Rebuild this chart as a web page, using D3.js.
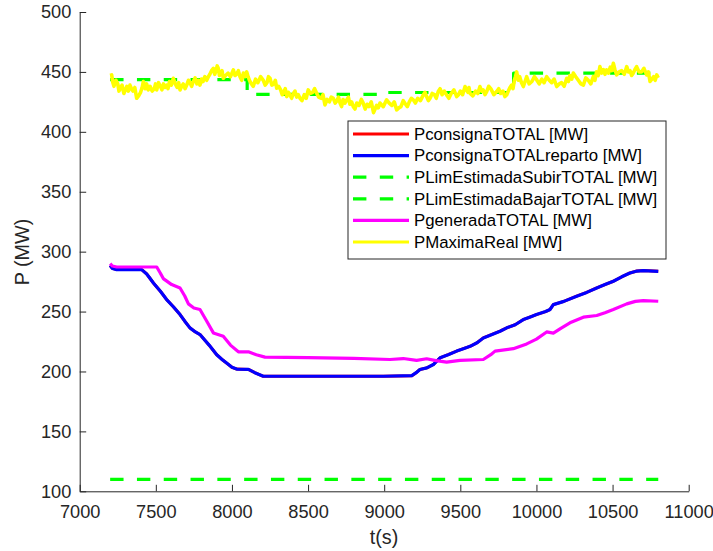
<!DOCTYPE html>
<meta charset="utf-8">
<style>
body { margin: 0; background: #fff; }
svg { display: block; }
text { font-family: "Liberation Sans", Arial, Helvetica, sans-serif; fill: #262626; }
.axis path, .axis line { stroke: #262626; stroke-width: 1px; }
.axis text { font-size: 18.2px; }
.series { fill: none; stroke-linejoin: round; }
</style>
<body>
<svg width="713" height="551"></svg>
<script src="https://d3js.org/d3.v7.min.js"></script>
<script>

// PconsignaTOTALreparto [MW]
var tReparto = [7200, 7215, 7243, 7407, 7440, 7460, 7484, 7530, 7571, 7615, 7659, 7690, 7724, 7760, 7790,
  7850, 7900, 7935, 7965, 8000, 8031, 8108, 8150, 8206, 8994, 9181, 9210, 9235, 9280, 9323, 9367, 9420,
  9476, 9520, 9564, 9610, 9651, 9700, 9761, 9805, 9860, 9914, 9960, 10000, 10060, 10089, 10111, 10180,
  10264, 10330, 10396, 10450, 10505, 10560, 10614, 10660, 10702, 10800];
var pReparto = [288.5, 286, 285, 285, 281.4, 278, 273.9, 267, 260, 254, 247.5, 242, 236.4, 233, 230.8,
  222, 214, 210, 207, 203.5, 202, 201.7, 199, 196, 196, 196.5, 199, 201.7, 203, 205.8, 211.4, 214,
  217, 219, 221, 224, 228, 230.5, 233.6, 236.4, 239, 243.3, 245.5, 247.5, 250, 251.7, 255.8, 258.5,
  262.8, 266, 269.7, 272.5, 275.3, 279, 282.2, 283.8, 284.2, 283.6];

// PconsignaTOTAL [MW] (hidden under the reparto curve)
var tConsigna = tReparto;
var pConsigna = pReparto;

// PgeneradaTOTAL [MW]
var tGenerada = [7200, 7215, 7243, 7506, 7530, 7549, 7604, 7659, 7690, 7714, 7750, 7790, 7830, 7878, 7943,
  7990, 8042, 8108, 8160, 8217, 8500, 8800, 9038, 9125, 9213, 9279, 9340, 9410, 9498, 9651, 9700, 9728,
  9848, 9936, 10000, 10067, 10111, 10160, 10220, 10308, 10396, 10450, 10505, 10593, 10650, 10702, 10800];
var pGenerada = [290, 288, 287.2, 287.2, 282, 277.5, 272.5, 269.7, 263, 256.4, 253, 251.7, 243, 232.2, 229.4,
  222, 216.4, 216.4, 214, 212, 211.5, 211, 210, 210.8, 209.2, 210.6, 209, 207.8, 209.2, 210, 214, 217,
  219, 223, 227, 233, 232, 236, 240.6, 245.3, 246.7, 249, 251.7, 256.4, 258.5, 259.2, 258.6];

// PLimEstimadaSubirTOTAL [MW] (steps)
var tSubir = [7200, 8100, 9000, 9850, 10800];
var pSubir = [443.5, 431.2, 432.8, 449, 449];

// PLimEstimadaBajarTOTAL [MW]
var tBajar = [7200, 10800];
var pBajar = [110, 110];

// PMaximaReal [MW]
var tMaxima = [7200, 7210, 7218, 7225, 7238, 7250, 7258, 7265, 7278, 7290, 7300, 7310, 7320, 7330, 7340,
  7350, 7362, 7374, 7387, 7400, 7410, 7418, 7430, 7440, 7450, 7462, 7476, 7490, 7498, 7506, 7518, 7530,
  7540, 7550, 7560, 7571, 7580, 7590, 7602, 7615, 7628, 7640, 7650, 7659, 7670, 7680, 7692, 7703, 7714,
  7725, 7735, 7746, 7758, 7770, 7780, 7790, 7800, 7810, 7822, 7834, 7845, 7855, 7866, 7878, 7887, 7895,
  7903, 7910, 7918, 7925, 7935, 7943, 7958, 7975, 7990, 8009, 8020, 8030, 8042, 8053, 8064, 8075, 8086,
  8097, 8106, 8115, 8128, 8140, 8155, 8170, 8188, 8206, 8218, 8230, 8240, 8250, 8262, 8275, 8285, 8294,
  8307, 8320, 8330, 8340, 8350, 8360, 8370, 8380, 8392, 8403, 8414, 8425, 8436, 8447, 8460, 8475, 8488,
  8501, 8515, 8530, 8543, 8557, 8570, 8585, 8598, 8611, 8625, 8640, 8652, 8666, 8678, 8690, 8700, 8710,
  8720, 8730, 8742, 8754, 8765, 8775, 8786, 8797, 8808, 8820, 8835, 8850, 8862, 8875, 8888, 8900, 8915,
  8930, 8940, 8950, 8961, 8972, 8994, 9016, 9033, 9050, 9066, 9082, 9096, 9110, 9125, 9140, 9152, 9165,
  9178, 9191, 9205, 9220, 9238, 9257, 9268, 9280, 9290, 9301, 9315, 9330, 9342, 9355, 9367, 9380, 9395,
  9410, 9425, 9440, 9458, 9476, 9488, 9500, 9515, 9531, 9540, 9550, 9557, 9564, 9582, 9600, 9615, 9629,
  9640, 9650, 9662, 9673, 9686, 9700, 9720, 9739, 9752, 9765, 9780, 9793, 9805, 9815, 9826, 9837, 9846,
  9855, 9862, 9870, 9880, 9890, 9902, 9914, 9925, 9936, 9952, 9970, 9986, 10002, 10018, 10035, 10050,
  10067, 10084, 10100, 10116, 10133, 10150, 10165, 10182, 10199, 10210, 10220, 10232, 10242, 10258, 10275,
  10292, 10308, 10324, 10340, 10357, 10373, 10384, 10395, 10406, 10417, 10428, 10440, 10450, 10461, 10473,
  10485, 10495, 10505, 10515, 10527, 10543, 10560, 10577, 10593, 10604, 10615, 10625, 10636, 10647, 10658,
  10674, 10690, 10706, 10724, 10735, 10746, 10758, 10770, 10780, 10790, 10800];
var pMaxima = [447, 447.5, 441, 438, 443, 440, 434, 436, 439, 432, 435, 438, 434, 439, 436,
  434, 437, 428, 430, 433, 437, 442, 436, 440, 435, 438, 434, 436, 440, 435, 441, 438,
  435, 440, 437, 439, 436, 442, 439, 444.7, 440, 437, 441, 435, 438, 440, 436, 439, 443,
  441, 438, 442, 445, 440, 443, 439, 444, 442, 446, 443, 446, 448, 451, 453, 448, 451,
  455, 453, 447, 449, 451, 444.7, 447, 449, 446, 451.7, 447, 448, 451, 446, 443, 449, 446,
  450, 446, 443, 440, 438, 444, 441, 446, 443, 439, 441, 446, 444.7, 439, 440, 443, 436.4,
  438, 435, 431, 433, 436, 429.4, 433, 431, 428, 432, 434, 429, 431, 428, 426, 431, 428,
  435, 432, 433, 436, 432, 429, 428, 431, 422.5, 427, 425, 429, 428, 424, 426, 429, 424,
  421, 427, 424, 426.7, 429, 423, 425, 421, 419, 424, 422, 427, 424, 419, 423, 421, 425,
  416, 419, 422, 420, 424, 421, 426.7, 424, 422, 425, 418.3, 420, 421, 426, 423, 421, 425,
  428, 426.7, 424, 428, 426, 430.8, 433, 429, 426, 428, 432, 431, 428, 433.6, 436, 431, 434,
  430.8, 428, 432, 435, 429.4, 431, 434, 431, 437.8, 435, 433, 437, 432, 430, 434, 432, 437.8,
  434, 435, 431, 433.6, 438, 436, 431, 433.6, 436, 432, 434, 429.4, 431, 434, 437, 439, 436,
  443, 446, 450, 443, 446, 441, 437.8, 442, 446, 440, 442, 446, 443.3, 440, 444, 441,
  446, 443, 441, 444, 437.8, 440, 441, 438, 444.7, 442, 447, 444, 449, 446, 443,
  440, 439, 445, 443, 440, 446, 443, 450, 447, 454.4, 449, 452, 448, 451.7, 449,
  454, 451, 457.2, 452, 447.5, 450, 451, 448, 454.4, 450, 451, 447, 449, 452, 454.4,
  450, 450, 453, 447.5, 450, 442, 444, 446, 443, 447.5, 445];

var xTicks = [7000, 7500, 8000, 8500, 9000, 9500, 10000, 10500, 11000];
var yTicks = [100, 150, 200, 250, 300, 350, 400, 450, 500];

var svg = d3.select("svg");

var x = d3.scaleLinear().domain([7000, 11000]).range([79.7, 688.7]);
var y = d3.scaleLinear().domain([100, 500]).range([491.3, 12]);

// axes, MATLAB look: ticks inside, no box
svg.append("g")
    .attr("class", "axis")
    .attr("transform", "translate(0,491.3)")
    .call(d3.axisBottom(x).tickValues(xTicks).tickFormat(d3.format("d"))
      .tickSizeInner(-6.5).tickSizeOuter(0).tickPadding(13.8));

svg.append("g")
    .attr("class", "axis")
    .attr("transform", "translate(79.7,0)")
    .call(d3.axisLeft(y).tickValues(yTicks).tickFormat(d3.format("d"))
      .tickSizeInner(-6.5).tickSizeOuter(0).tickPadding(8.4));

svg.append("text")
    .attr("x", 384)
    .attr("y", 544)
    .attr("text-anchor", "middle")
    .style("font-size", "19.8px")
    .text("t(s)");

svg.append("text")
    .attr("transform", "translate(29,252) rotate(-90)")
    .attr("text-anchor", "middle")
    .style("font-size", "19.8px")
    .text("P (MW)");

function pairs(ts, ps) {
  return ts.map(function(t, i) { return [t, ps[i]]; });
}

var line = d3.line()
    .x(function(d) { return x(d[0]); })
    .y(function(d) { return y(d[1]); });

var stepLine = d3.line()
    .x(function(d) { return x(d[0]); })
    .y(function(d) { return y(d[1]); })
    .curve(d3.curveStepAfter);

var series = [
  { name: "PconsignaTOTAL [MW]", data: pairs(tConsigna, pConsigna), color: "#ff0000", width: 3, dash: null, gen: line },
  { name: "PconsignaTOTALreparto [MW]", data: pairs(tReparto, pReparto), color: "#0000ff", width: 3.2, dash: null, gen: line },
  { name: "PLimEstimadaSubirTOTAL [MW]", data: pairs(tSubir, pSubir), color: "#00ff00", width: 3.2, dash: "13.4,13.4", gen: stepLine },
  { name: "PLimEstimadaBajarTOTAL [MW]", data: pairs(tBajar, pBajar), color: "#00ff00", width: 3.2, dash: "13.4,13.4", gen: line },
  { name: "PgeneradaTOTAL [MW]", data: pairs(tGenerada, pGenerada), color: "#ff00ff", width: 3.2, dash: null, gen: line },
  { name: "PMaximaReal [MW]", data: pairs(tMaxima, pMaxima), color: "#ffff00", width: 3.6, dash: null, gen: line }
];

svg.append("g").selectAll("path")
    .data(series)
    .enter().append("path")
      .attr("class", "series")
      .attr("d", function(d) { return d.gen(d.data); })
      .attr("stroke", function(d) { return d.color; })
      .attr("stroke-width", function(d) { return d.width; })
      .attr("stroke-dasharray", function(d) { return d.dash; });

// legend
var legend = svg.append("g").attr("transform", "translate(348,121)");

legend.append("rect")
    .attr("width", 318)
    .attr("height", 138)
    .attr("fill", "#fff")
    .attr("stroke", "#262626")
    .attr("stroke-width", 1);

var item = legend.selectAll("g")
    .data(series)
    .enter().append("g")
      .attr("transform", function(d, i) { return "translate(0," + (13 + i * 21.6) + ")"; });

item.append("line")
    .attr("x1", 5)
    .attr("x2", 61)
    .attr("stroke", function(d) { return d.color; })
    .attr("stroke-width", 3.2)
    .attr("stroke-dasharray", function(d) { return d.dash; });

item.append("text")
    .attr("x", 66)
    .attr("dy", "0.35em")
    .style("font-size", "16.8px")
    .style("fill", "#000")
    .text(function(d) { return d.name; });

</script>
</body>
